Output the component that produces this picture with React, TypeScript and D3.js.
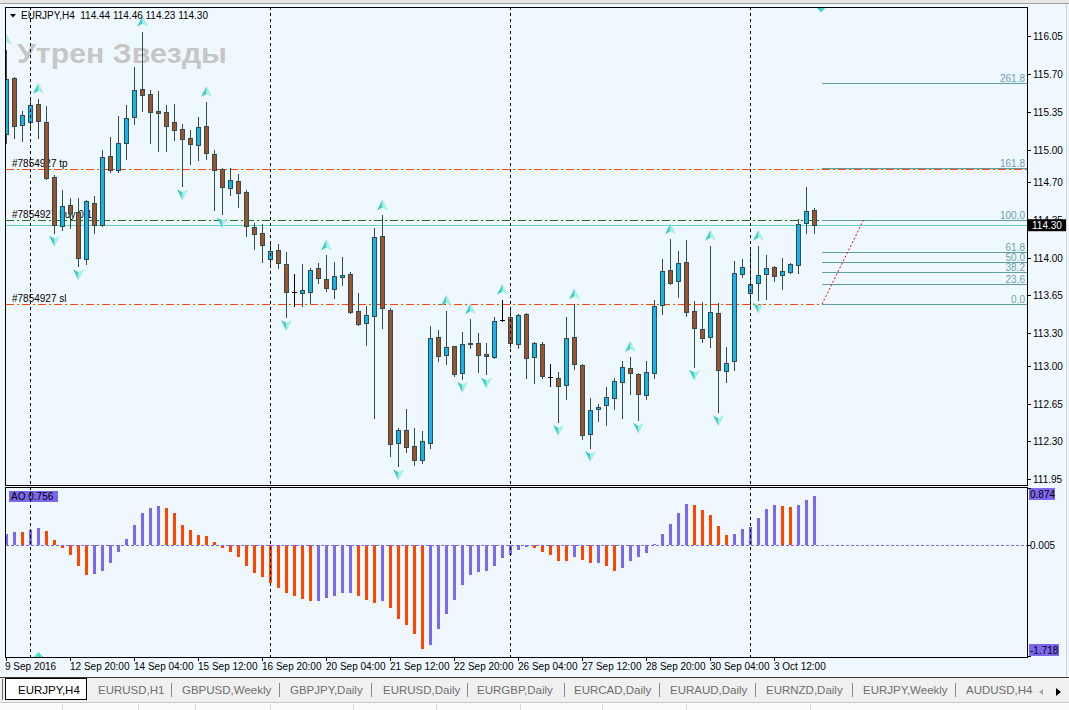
import React, { useEffect, useRef } from "react";
import * as d3 from "d3";

const W = 1069;
const H = 710;

// EURJPY H4 candles (bar 0 = 9 Sep 2016)
const opens = [
  115.14, 115.66, 115.23, 115.25, 115.42, 115.25, 114.75, 114.29, 114.49, 114.42,
  113.99, 114.51, 114.3, 114.94, 114.81, 115.06, 115.3, 115.56, 115.51, 115.36,
  115.35, 115.25, 115.19, 115.11, 115.04, 115.22, 114.96, 114.82, 114.64, 114.71,
  114.61, 114.28, 114.23, 113.99, 114.07, 113.94, 113.68, 113.67, 113.68, 113.9,
  113.8, 113.71, 113.82, 113.85, 113.51, 113.4, 113.46, 114.2, 113.52, 112.29,
  112.41, 112.26, 112.13, 112.29, 113.27, 113.1, 113.18, 112.93, 113.21, 113.21,
  113.11, 113.08, 113.42, 113.45, 113.2, 113.48, 113.08, 113.2, 112.9, 112.89,
  112.82, 113.27, 113.01, 112.37, 112.6, 112.64, 112.7, 112.85, 112.98, 112.92,
  112.73, 112.93, 113.56, 113.89, 113.78, 113.96, 113.51, 113.34, 113.27, 113.49,
  112.95, 113.04, 113.85, 113.67, 113.77, 113.85, 113.91, 113.84, 113.87, 113.93,
  114.32, 114.44,
];
const highs = [
  115.92, 115.67, 115.36, 115.46, 115.47, 115.4, 114.76, 114.63, 114.55, 114.55,
  114.53, 114.57, 115.0, 115.12, 115.31, 115.41, 115.76, 116.09, 115.55, 115.54,
  115.41, 115.42, 115.24, 115.18, 115.3, 115.44, 115.0, 114.83, 114.83, 114.77,
  114.63, 114.32, 114.31, 114.14, 114.13, 114.05, 113.85, 113.94, 113.9, 113.95,
  114.02, 113.96, 114.01, 113.87, 113.67, 113.55, 114.27, 114.39, 113.53, 112.42,
  112.6, 112.42, 112.4, 113.37, 113.33, 113.51, 113.18, 113.31, 113.43, 113.3,
  113.21, 113.45, 113.61, 113.54, 113.48, 113.49, 113.22, 113.22, 113.02, 112.94,
  113.45, 113.57, 113.02, 112.7, 112.65, 112.8, 112.89, 113.04, 113.08, 112.93,
  113.04, 113.61, 113.99, 114.17, 114.06, 114.16, 113.6, 113.59, 114.11, 113.58,
  113.17, 113.97, 113.99, 114.09, 114.11, 114.02, 113.92, 114.0, 113.95, 114.36,
  114.65, 114.46,
];
const lows = [
  115.06, 115.11, 115.08, 115.18, 115.11, 114.73, 114.23, 114.26, 114.27, 113.92,
  113.94, 114.23, 114.29, 114.79, 114.79, 114.91, 115.24, 115.36, 115.06, 114.99,
  114.99, 115.09, 114.66, 114.87, 114.9, 114.91, 114.44, 114.4, 114.58, 114.47,
  114.2, 114.08, 113.96, 113.91, 113.9, 113.45, 113.55, 113.55, 113.58, 113.77,
  113.69, 113.63, 113.75, 113.49, 113.38, 113.19, 112.52, 113.35, 112.17, 112.07,
  112.2, 112.08, 112.1, 112.24, 113.04, 113.02, 112.91, 112.88, 113.16, 112.94,
  112.92, 113.07, 113.41, 113.17, 113.16, 112.89, 112.84, 112.89, 112.81, 112.48,
  112.69, 112.97, 112.32, 112.24, 112.49, 112.45, 112.6, 112.52, 112.74, 112.5,
  112.69, 112.89, 113.48, 113.76, 113.64, 113.46, 112.99, 113.22, 113.17, 112.57,
  112.85, 112.96, 113.82, 113.53, 113.61, 113.62, 113.78, 113.71, 113.86, 113.86,
  114.23, 114.23,
];
const closes = [
  115.65, 115.22, 115.32, 115.41, 115.26, 114.74, 114.3, 114.48, 114.41, 114.0,
  114.52, 114.3, 114.93, 114.81, 115.06, 115.29, 115.55, 115.5, 115.35, 115.34,
  115.22, 115.18, 115.1, 115.05, 115.21, 114.97, 114.81, 114.65, 114.72, 114.6,
  114.29, 114.22, 114.12, 114.06, 113.95, 113.68, 113.68, 113.7, 113.89, 113.81,
  113.72, 113.83, 113.84, 113.5, 113.39, 113.47, 114.19, 113.53, 112.28, 112.41,
  112.25, 112.13, 112.3, 113.26, 113.09, 113.17, 112.92, 113.2, 113.2, 113.1,
  113.09, 113.41, 113.42, 113.21, 113.47, 113.07, 113.21, 112.91, 112.9, 112.81,
  113.26, 113.02, 112.36, 112.59, 112.62, 112.71, 112.86, 112.99, 112.93, 112.74,
  112.94, 113.55, 113.88, 113.77, 113.95, 113.5, 113.35, 113.26, 113.5, 112.96,
  113.03, 113.86, 113.91, 113.76, 113.84, 113.9, 113.83, 113.88, 113.94, 114.31,
  114.43, 114.3,
];

// Awesome Oscillator, one value per bar
const aoValues = [
  0.159, 0.195, 0.19, 0.226, 0.257, 0.206, 0.067, -0.046, -0.159, -0.329,
  -0.468, -0.453, -0.406, -0.283, -0.113, 0.082, 0.298, 0.484, 0.561, 0.592,
  0.561, 0.484, 0.298, 0.221, 0.144, 0.129, 0.036, -0.046, -0.113, -0.19,
  -0.329, -0.437, -0.499, -0.597, -0.669, -0.746, -0.792, -0.838, -0.869, -0.865,
  -0.823, -0.792, -0.746, -0.744, -0.792, -0.854, -0.9, -0.869, -0.977, -1.147,
  -1.24, -1.373, -1.61, -1.548, -1.301, -1.07, -0.854, -0.622, -0.468, -0.422,
  -0.406, -0.329, -0.201, -0.159, -0.082, -0.036, -0.051, -0.113, -0.159, -0.252,
  -0.255, -0.19, -0.237, -0.283, -0.28, -0.329, -0.406, -0.36, -0.252, -0.19,
  -0.129, 0.01, 0.159, 0.324, 0.494, 0.633, 0.617, 0.53, 0.453, 0.293,
  0.144, 0.17, 0.247, 0.278, 0.406, 0.556, 0.617, 0.602, 0.586, 0.617,
  0.694, 0.756,
];

const upFractals = [0, 4, 17, 25, 40, 47, 55, 58, 62, 71, 78, 83, 88, 94];
const downFractals = [6, 9, 22, 27, 35, 49, 57, 60, 69, 73, 79, 86, 89, 94];

const priceTicks = [
  "116.05", "115.70", "115.35", "115.00", "114.70", "114.35", "114.00",
  "113.65", "113.30", "113.00", "112.65", "112.30", "111.95",
];
const timeLabels = [
  "9 Sep 2016", "12 Sep 20:00", "14 Sep 04:00", "15 Sep 12:00", "16 Sep 20:00",
  "20 Sep 04:00", "21 Sep 12:00", "22 Sep 20:00", "26 Sep 04:00", "27 Sep 12:00",
  "28 Sep 20:00", "30 Sep 04:00", "3 Oct 12:00",
];
const weekSeparators = [3, 33, 63, 93];
const fibLevels = [0, 23.6, 38.2, 50, 61.8, 100, 161.8, 261.8];
const tabs = [
  "EURJPY,H4", "EURUSD,H1", "GBPUSD,Weekly", "GBPJPY,Daily", "EURUSD,Daily",
  "EURGBP,Daily", "EURCAD,Daily", "EURAUD,Daily", "EURNZD,Daily", "EURJPY,Weekly",
  "AUDUSD,H4",
];

const header = "EURJPY,H4  114.44 114.46 114.23 114.30";
const tpPrice = 114.82;
const buyPrice = 114.35;
const slPrice = 113.57;
const bidPrice = 114.3;
const aoMax = 0.874;
const aoMin = -1.718;
const aoZeroLabel = "0.005";

const App: React.FC = () => {
  const svgRef = useRef<SVGSVGElement>(null);

  useEffect(() => {
    document.body.style.margin = "0";
    document.body.style.overflow = "hidden";
    if (!svgRef.current) return;
    const svg = d3.select(svgRef.current);
    svg.selectAll("*").remove();

    const font = "'Liberation Sans', Arial, sans-serif";
    const left = 6;
    const right = 1027;
    const mainTop = 7;
    const mainBottom = 485;
    const aoTop = 487;
    const aoBottom = 657;

    const x = d3.scaleLinear().domain([0, 1]).range([6, 14]);
    const y = d3.scaleLinear().domain([111.95, 116.05]).range([479.3, 36]);
    const yAo = d3.scaleLinear().domain([aoMin, aoMax]).range([656, 488]);
    const px = (v: number) => Math.round(v) + 0.5;

    // background + window chrome
    svg.append("rect").attr("width", W).attr("height", H).attr("fill", "#F0F8FF");
    svg.append("rect").attr("width", W).attr("height", 3).attr("fill", "#E6E6E6");
    svg.append("line").attr("x1", 0).attr("x2", W).attr("y1", 3.5).attr("y2", 3.5).attr("stroke", "#A0A0A0");
    svg.append("line").attr("x1", 1066.5).attr("x2", 1066.5).attr("y1", 4).attr("y2", 677).attr("stroke", "#D4D4D4");

    const defs = svg.append("defs");
    defs.append("clipPath").attr("id", "main-clip").append("rect")
      .attr("x", left).attr("y", mainTop).attr("width", right - left).attr("height", mainBottom - mainTop);
    defs.append("clipPath").attr("id", "ao-clip").append("rect")
      .attr("x", left).attr("y", aoTop).attr("width", right - left).attr("height", aoBottom - aoTop);

    const main = svg.append("g").attr("clip-path", "url(#main-clip)");

    // watermark
    main.append("text")
      .attr("x", 17).attr("y", 63)
      .attr("font-family", font).attr("font-weight", "bold").attr("font-size", 28)
      .attr("fill", "#C6C6C6")
      .attr("textLength", 210).attr("lengthAdjust", "spacingAndGlyphs")
      .text("Утрен Звезды");

    // order lines
    const orders = [
      { price: tpPrice, label: "#7854927 tp", color: "#FF4500" },
      { price: buyPrice, label: "#7854927 buy 0.1", color: "#167D16" },
      { price: slPrice, label: "#7854927 sl", color: "#FF4500" },
    ];
    orders.forEach((o) => {
      const yy = px(y(o.price));
      main.append("text")
        .attr("x", 12).attr("y", yy - 3)
        .attr("font-family", font).attr("font-size", 10).attr("fill", "#000")
        .text(o.label);
      main.append("line")
        .attr("x1", left).attr("x2", right).attr("y1", yy).attr("y2", yy)
        .attr("stroke", o.color).attr("stroke-dasharray", "8,3,2,3");
    });

    // bid line
    main.append("line")
      .attr("x1", left).attr("x2", right)
      .attr("y1", px(y(bidPrice))).attr("y2", px(y(bidPrice)))
      .attr("stroke", "#5ED3C7");

    // fibonacci
    const fibX = x(102);
    const fibPrice = (lv: number) => slPrice + (buyPrice - slPrice) * lv / 100;
    fibLevels.forEach((lv) => {
      const yy = px(y(fibPrice(lv)));
      main.append("line")
        .attr("x1", fibX).attr("x2", right).attr("y1", yy).attr("y2", yy)
        .attr("stroke", "#5F9EA0");
      main.append("text")
        .attr("x", right - 2).attr("y", yy - 2)
        .attr("text-anchor", "end")
        .attr("font-family", font).attr("font-size", 10).attr("fill", "#6A9FAE")
        .text(lv.toFixed(1));
    });
    main.append("line")
      .attr("x1", fibX).attr("y1", y(slPrice))
      .attr("x2", x(107.2)).attr("y2", y(buyPrice))
      .attr("stroke", "#FF0000").attr("stroke-dasharray", "2,2");

    // candles
    const candles = d3.range(opens.length).map((i) => ({
      i, o: opens[i], h: highs[i], l: lows[i], c: closes[i],
    }));
    const cg = main.append("g");
    candles.forEach((d) => {
      const cx = x(d.i);
      const doji = d.o === d.c;
      cg.append("line")
        .attr("x1", cx + 0.5).attr("x2", cx + 0.5)
        .attr("y1", Math.round(y(d.h))).attr("y2", Math.round(y(d.l)) + 1)
        .attr("stroke", doji ? "#000" : "#2F4F4F");
      if (doji) {
        cg.append("line")
          .attr("x1", cx - 2).attr("x2", cx + 3)
          .attr("y1", px(y(d.o))).attr("y2", px(y(d.o)))
          .attr("stroke", "#000");
      } else {
        const top = Math.round(y(Math.max(d.o, d.c)));
        const bot = Math.round(y(Math.min(d.o, d.c)));
        cg.append("rect")
          .attr("x", cx - 1.5).attr("width", 4)
          .attr("y", top + 0.5).attr("height", Math.max(1, bot - top))
          .attr("fill", d.c > d.o ? "#16B2EC" : "#A0522D")
          .attr("stroke", "#2F4F4F");
      }
    });

    // fractal arrows
    const arrow = (g: d3.Selection<SVGGElement, unknown, null, undefined>, cx: number, cy: number, up: boolean) => {
      const s = up ? 1 : -1;
      g.append("path")
        .attr("d", `M${cx},${cy - 6 * s} L${cx - 5.5},${cy + 5 * s} L${cx},${cy + 2 * s} Z`)
        .attr("fill", "#3CCFC4");
      g.append("path")
        .attr("d", `M${cx},${cy - 6 * s} L${cx + 5.5},${cy + 5 * s} L${cx},${cy + 2 * s} Z`)
        .attr("fill", "#A6EDE7");
    };
    const fg = main.append("g");
    upFractals.forEach((i) => arrow(fg, x(i) + 0.5, y(highs[i]) - 10, true));
    downFractals.forEach((i) => arrow(fg, x(i) + 0.5, y(lows[i]) + 8, false));

    // chart shift marker
    svg.append("path").attr("d", "M816.5,7.5 L825.5,7.5 L821,12.5 Z").attr("fill", "#48D1CC");

    // header
    svg.append("path").attr("d", "M10,14 L16,14 L13,17.5 Z").attr("fill", "#000");
    svg.append("text")
      .attr("x", 21).attr("y", 18.5)
      .attr("font-family", font).attr("font-size", 10).attr("fill", "#000")
      .attr("xml:space", "preserve")
      .text(header);

    // AO panel
    const ao = svg.append("g").attr("clip-path", "url(#ao-clip)");
    const zeroY = px(yAo(0));
    aoValues.forEach((v, k) => {
      const up = k === 0 || v > aoValues[k - 1];
      const y0 = yAo(Math.max(v, 0));
      const y1 = yAo(Math.min(v, 0));
      ao.append("rect")
        .attr("x", x(k) - 1).attr("width", 3)
        .attr("y", Math.round(y0)).attr("height", Math.max(1, Math.round(y1) - Math.round(y0)))
        .attr("fill", up ? "#7B68EE" : "#FF4500");
    });
    ao.append("line")
      .attr("x1", left).attr("x2", right).attr("y1", zeroY).attr("y2", zeroY)
      .attr("stroke", "#7B68EE").attr("stroke-dasharray", "3,2");
    ao.append("rect").attr("x", 9).attr("y", 491).attr("width", 49).attr("height", 11).attr("fill", "#7B68EE");
    ao.append("text")
      .attr("x", 11).attr("y", 500)
      .attr("font-family", font).attr("font-size", 10).attr("fill", "#000")
      .text(`AO ${aoValues[aoValues.length - 1].toFixed(3)}`);
    svg.append("path").attr("d", "M34,657 L43,657 L38.5,652 Z").attr("fill", "#40E0D0");

    // week separators
    weekSeparators.forEach((i) => {
      svg.append("line")
        .attr("x1", x(i) + 0.5).attr("x2", x(i) + 0.5)
        .attr("y1", mainTop).attr("y2", aoBottom)
        .attr("stroke", "#000").attr("stroke-dasharray", "3,3");
    });

    // frames
    svg.append("rect")
      .attr("x", left - 0.5).attr("y", mainTop + 0.5)
      .attr("width", right - left + 1).attr("height", mainBottom - mainTop)
      .attr("fill", "none").attr("stroke", "#000");
    svg.append("rect")
      .attr("x", left - 0.5).attr("y", aoTop + 0.5)
      .attr("width", right - left + 1).attr("height", aoBottom - aoTop)
      .attr("fill", "none").attr("stroke", "#000");

    // price axis
    priceTicks.forEach((t) => {
      const yy = px(y(+t));
      svg.append("line").attr("x1", right).attr("x2", right + 4).attr("y1", yy).attr("y2", yy).attr("stroke", "#000");
      svg.append("text")
        .attr("x", right + 6).attr("y", yy + 3.5)
        .attr("font-family", font).attr("font-size", 10).attr("fill", "#000")
        .text(t);
    });
    const bidY = y(bidPrice);
    svg.append("rect").attr("x", right + 1).attr("y", bidY - 6).attr("width", 38).attr("height", 12).attr("fill", "#000");
    svg.append("text")
      .attr("x", right + 5).attr("y", bidY + 4)
      .attr("font-family", font).attr("font-size", 10).attr("fill", "#fff")
      .text(bidPrice.toFixed(2));

    // AO axis
    const aoLabels = [
      { v: aoMax, text: aoMax.toFixed(3), box: true },
      { v: 0, text: aoZeroLabel, box: false },
      { v: aoMin, text: aoMin.toFixed(3), box: true },
    ];
    aoLabels.forEach((a) => {
      const yy = yAo(a.v);
      const ty = Math.min(Math.max(yy, 494), 650);
      if (a.box) {
        svg.append("rect")
          .attr("x", right + 2).attr("y", ty - 6).attr("width", a.v < 0 ? 30 : 26).attr("height", 12)
          .attr("fill", "#7B68EE");
      }
      svg.append("line").attr("x1", right).attr("x2", right + 4).attr("y1", px(yy)).attr("y2", px(yy)).attr("stroke", "#000");
      svg.append("text")
        .attr("x", right + 3).attr("y", ty + 4)
        .attr("font-family", font).attr("font-size", 10).attr("fill", "#000")
        .text(a.text);
    });

    // time axis
    timeLabels.forEach((t, m) => {
      const tx = x(m * 8);
      svg.append("line")
        .attr("x1", tx + 0.5).attr("x2", tx + 0.5).attr("y1", aoBottom).attr("y2", aoBottom + 4)
        .attr("stroke", "#000");
      svg.append("text")
        .attr("x", m === 0 ? 5 : tx).attr("y", 669.5)
        .attr("font-family", font).attr("font-size", 10).attr("fill", "#000")
        .text(t);
    });

    // tabs
    svg.append("rect").attr("x", 0).attr("y", 677).attr("width", W).attr("height", 25).attr("fill", "#F0F0F0");
    svg.append("line").attr("x1", 0).attr("x2", W).attr("y1", 677.5).attr("y2", 677.5).attr("stroke", "#3A3A3A");
    svg.append("line").attr("x1", 2.5).attr("x2", 2.5).attr("y1", 679).attr("y2", 700).attr("stroke", "#6A6A6A");
    svg.append("rect")
      .attr("x", 5.5).attr("y", 678.5).attr("width", 81).attr("height", 21)
      .attr("fill", "#fff").attr("stroke", "#000");
    const tabX = [18, 98, 182, 290, 383, 477, 574, 670, 766, 863, 966];
    const sepX = [171, 279, 371, 467, 564, 659, 755, 852, 955];
    tabs.forEach((t, i) => {
      svg.append("text")
        .attr("x", tabX[i]).attr("y", 694)
        .attr("font-family", font).attr("font-size", 11.5)
        .attr("fill", i === 0 ? "#000" : "#6E6E6E")
        .text(t);
    });
    sepX.forEach((sx) => {
      svg.append("line").attr("x1", sx + 0.5).attr("x2", sx + 0.5).attr("y1", 683).attr("y2", 697).attr("stroke", "#8A8A8A");
    });
    svg.append("path").attr("d", "M1043,689 L1039,692 L1043,695 Z").attr("fill", "#A8A8A8");
    svg.append("path").attr("d", "M1056,688 L1061,692 L1056,696 Z").attr("fill", "#000");

    // status bar
    svg.append("rect").attr("x", 0).attr("y", 702).attr("width", W).attr("height", 8).attr("fill", "#FBFBFB");
    svg.append("line").attr("x1", 0).attr("x2", W).attr("y1", 702.5).attr("y2", 702.5).attr("stroke", "#C8C8C8");
    [62, 138, 195, 270, 353, 436, 520, 602, 686, 810].forEach((sx) => {
      svg.append("line").attr("x1", sx + 0.5).attr("x2", sx + 0.5).attr("y1", 704).attr("y2", 710).attr("stroke", "#D8D8D8");
    });
  }, []);

  return (
    <svg ref={svgRef} width={W} height={H} style={{ display: "block" }} />
  );
};

export default App;
